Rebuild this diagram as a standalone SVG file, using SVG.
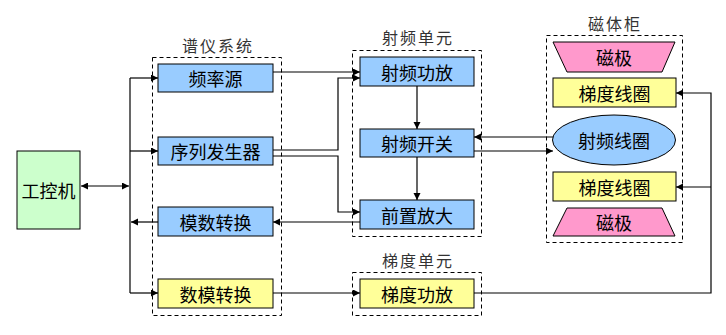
<svg xmlns="http://www.w3.org/2000/svg" width="726" height="335" viewBox="0 0 726 335">
<style>
.t{font-family:"Noto Sans CJK SC","Noto Sans",sans-serif;font-size:18px;fill:#000;text-anchor:middle;dominant-baseline:central}
.lb{font-family:"Noto Sans CJK SC","Noto Sans",sans-serif;font-size:16px;letter-spacing:2px;fill:#333;text-anchor:middle;dominant-baseline:central}
.blue{fill:#99CCFF;stroke:#000;stroke-width:1}
.yel{fill:#FFFF99;stroke:#000;stroke-width:1}
.grn{fill:#CCFFCC;stroke:#000;stroke-width:1}
.pink{fill:#FF99CC;stroke:#000;stroke-width:1}
.dash{fill:none;stroke:#000;stroke-width:1;stroke-dasharray:4,3}
.ln{fill:none;stroke:#000;stroke-width:1.2}
.ar{marker-end:url(#ah)}
</style>
<defs>
<marker id="ah" markerUnits="userSpaceOnUse" markerWidth="8" markerHeight="8" refX="7" refY="3.5" orient="auto">
<path d="M0,0 L7,3.5 L0,7 z" fill="#000"/>
</marker>
<marker id="ahs" markerUnits="userSpaceOnUse" markerWidth="8" markerHeight="8" refX="0" refY="3.5" orient="auto">
<path d="M7,0 L0,3.5 L7,7 z" fill="#000"/>
</marker>
</defs>

<g id="group-puyi">
<rect class="dash" x="152.5" y="57.5" width="129" height="258"/>
<text class="lb" x="218" y="45">谱仪系统</text>
</g>
<g id="group-shepin">
<rect class="dash" x="352.5" y="50.5" width="129" height="186"/>
<text class="lb" x="418" y="37">射频单元</text>
</g>
<g id="group-citi">
<rect class="dash" x="546.5" y="35.5" width="136" height="207"/>
<text class="lb" x="615" y="23">磁体柜</text>
</g>
<g id="group-tidu">
<rect class="dash" x="352.5" y="272.5" width="129" height="43"/>
<text class="lb" x="418" y="260">梯度单元</text>
</g>

<g id="gongkongji"><rect class="grn" x="17" y="151" width="63" height="78"/><text class="t" x="48.5" y="190">工控机</text></g>
<g id="pinlvyuan"><rect class="blue" x="158" y="64" width="115" height="28"/><text class="t" x="215.5" y="78">频率源</text></g>
<g id="xulie"><rect class="blue" x="158" y="137" width="115" height="28"/><text class="t" x="215.5" y="151">序列发生器</text></g>
<g id="moshu"><rect class="blue" x="158" y="207" width="115" height="29"/><text class="t" x="215.5" y="221.5">模数转换</text></g>
<g id="shumo"><rect class="yel" x="158" y="279" width="115" height="29"/><text class="t" x="215.5" y="293.5">数模转换</text></g>
<g id="shepingongfang"><rect class="blue" x="360" y="57" width="114" height="29"/><text class="t" x="417" y="71.5">射频功放</text></g>
<g id="shepinkaiguan"><rect class="blue" x="360" y="129" width="114" height="28"/><text class="t" x="417" y="143">射频开关</text></g>
<g id="qianzhi"><rect class="blue" x="360" y="200" width="114" height="29"/><text class="t" x="417" y="214.5">前置放大</text></g>
<g id="tidugongfang"><rect class="yel" x="360" y="279" width="114" height="29"/><text class="t" x="417" y="293.5">梯度功放</text></g>
<g id="ciji-top"><polygon class="pink" points="553,42 675,42 662,72 567,72"/><text class="t" x="614" y="57">磁极</text></g>
<g id="tiduxianquan1"><rect class="yel" x="553" y="78" width="123" height="29"/><text class="t" x="614.5" y="92.5">梯度线圈</text></g>
<g id="shepinxianquan"><ellipse cx="614" cy="140" rx="61.5" ry="25" fill="#99CCFF" stroke="#000" stroke-width="1"/><text class="t" x="614" y="140">射频线圈</text></g>
<g id="tiduxianquan2"><rect class="yel" x="553" y="172" width="123" height="29"/><text class="t" x="614.5" y="186.5">梯度线圈</text></g>
<g id="ciji-bottom"><polygon class="pink" points="567,208 662,208 675,236 553,236"/><text class="t" x="614" y="222">磁极</text></g>

<g id="connectors">
<path class="ln" d="M130,78 V293"/>
<path class="ln ar" d="M130,78 H158"/>
<path class="ln ar" d="M130,151 H158"/>
<path class="ln ar" d="M158,222 H131"/>
<path class="ln ar" d="M130,293 H158"/>
<path class="ln ar" d="M81,186 H129" marker-start="url(#ahs)"/>
<path class="ln ar" d="M273,72 H360"/>
<path class="ln ar" d="M273,150 H338 V78 H360"/>
<path class="ln ar" d="M273,156 H338 V212 H360"/>
<path class="ln ar" d="M417,86 V129"/>
<path class="ln ar" d="M417,157 V200"/>
<path class="ln ar" d="M360,222 H273"/>
<path class="ln ar" d="M553,137 H474"/>
<path class="ln ar" d="M474,151 H553"/>
<path class="ln ar" d="M273,293 H360"/>
<path class="ln ar" d="M474,293 H711 V93 H676"/>
<path class="ln ar" d="M711,187 H676"/>
</g>
</svg>
